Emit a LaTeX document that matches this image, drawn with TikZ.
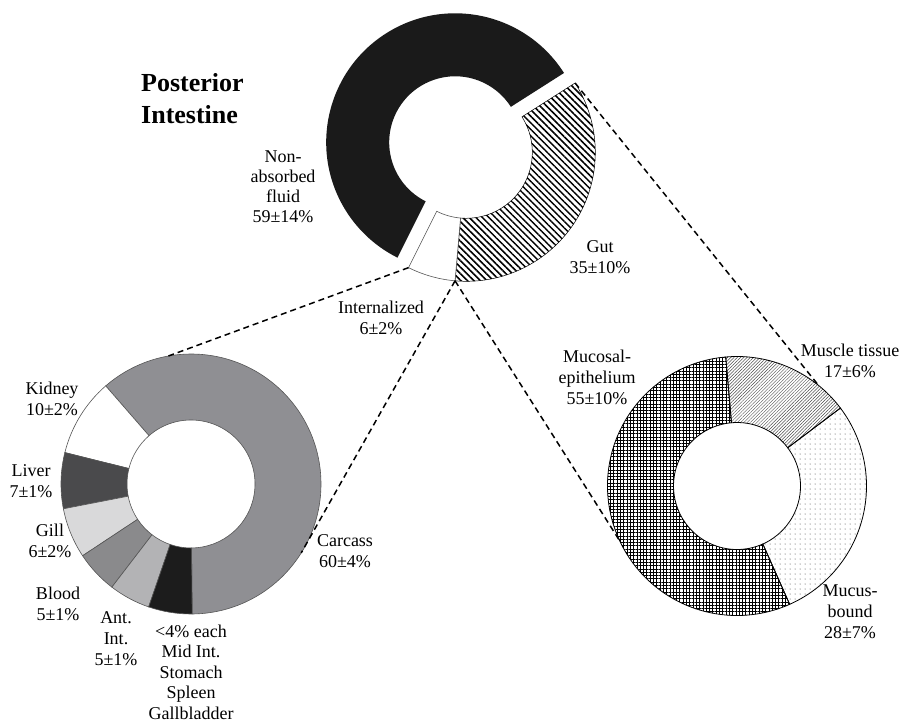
\documentclass[tikz,border=0pt]{standalone}
\usepackage{fontspec}
\setmainfont{Liberation Serif}
\usetikzlibrary{calc,patterns.meta}
\definecolor{topblack}{HTML}{1A1A1A}
\definecolor{carc}{HTML}{8F8F93}
\definecolor{liver}{HTML}{4A4A4C}
\definecolor{gill}{HTML}{D9D9DA}
\definecolor{blood}{HTML}{8A8A8C}
\definecolor{antint}{HTML}{B3B3B5}
\definecolor{misc}{HTML}{1C1C1C}
\definecolor{edge}{HTML}{555555}
\newcommand\ringseg[6]{%
  \path[#1] ($(#2)+(#5:#4)$) arc[start angle=#5,end angle=#6,radius=#4]
    -- ($(#2)+(#6:#3)$) arc[start angle=#6,end angle=#5,radius=#3] -- cycle;}
\tikzset{
  lbl/.style={align=center,inner sep=0pt,font=\fontsize{18}{21}\selectfont},
  ttl/.style={align=left,inner sep=0pt,font=\fontsize{26}{32}\selectfont\bfseries},
  dashline/.style={draw=black,line width=1.5pt,dash pattern=on 6pt off 4pt},
  segL/.style={draw=edge,line width=0.6pt},
  segR/.style={draw=black,line width=0.8pt},
}
\begin{document}
\begin{tikzpicture}[x=1pt,y=1pt]
\useasboundingbox (0,0) rectangle (904,724);
% centres
\coordinate (Ctop) at (466.3,571.7);
\coordinate (Cblk) at (455.2,581.7);
\coordinate (Cleft) at (191,240);
\coordinate (Cright) at (737,238);
% ---- top donut
\ringseg{fill=topblack}{Cblk}{66}{129}{32.5}{243.4}
\ringseg{fill=white,pattern={Lines[angle=-45,distance=4.6pt,line width=1.5pt]},pattern color=black,draw=black,line width=0.5pt}{Ctop}{66}{129}{-95}{32.5}
\ringseg{fill=white,draw=edge,line width=0.6pt}{Ctop}{66}{129}{-116.6}{-95}
% ---- left donut
\ringseg{segL,fill=carc}{Cleft}{64}{130}{-89.5}{131}
\ringseg{segL,fill=white}{Cleft}{64}{130}{131}{166}
\ringseg{segL,fill=liver}{Cleft}{64}{130}{166}{191}
\ringseg{segL,fill=gill}{Cleft}{64}{130}{191}{213.5}
\ringseg{segL,fill=blood}{Cleft}{64}{130}{213.5}{232.5}
\ringseg{segL,fill=antint}{Cleft}{64}{130}{232.5}{251}
\ringseg{segL,fill=misc}{Cleft}{64}{130}{251}{270.5}
% ---- right donut
\ringseg{segR,pattern={Hatch[angle=0,distance=3.3pt,line width=0.8pt]},pattern color=black}{Cright}{63.5}{129.5}{95}{294}
\ringseg{segR,pattern={Lines[angle=45,distance=2.3pt,line width=0.5pt]},pattern color=black!70}{Cright}{63.5}{129.5}{37}{95}
\ringseg{segR,pattern={Dots[distance=5pt,radius=0.5pt]},pattern color=black!80}{Cright}{63.5}{129.5}{-66}{37}
% ---- connector end points
\coordinate (wOut) at ($(Ctop)+(-116.6:129)$);
\coordinate (gwOut) at ($(Ctop)+(-95:129)$);
\coordinate (gOut) at ($(Ctop)+(32.5:129)$);
\coordinate (lTop) at ($(Cleft)+(100:130)$);
\coordinate (lRight) at ($(Cleft)+(-32:130)$);
\coordinate (rLeft) at ($(Cright)+(205:129.5)$);
\coordinate (rTop) at ($(Cright)+(51:129.5)$);
\draw[dashline] (wOut) -- (lTop);
\draw[dashline] (gwOut) -- (lRight);
\draw[dashline] (gwOut) -- (rLeft);
\draw[dashline] (gOut) -- (rTop);
% ---- labels
\node[ttl,anchor=west] (title) at (141,625) {Posterior\\Intestine};
\node[lbl,font=\fontsize{18}{20}\selectfont] (nonabs) at (283,537) {Non-\\absorbed\\fluid\\59±14\%};
\node[lbl] (gut) at (600,466.5) {Gut\\35±10\%};
\node[lbl] (intern) at (381,406) {Internalized\\6±2\%};
\node[lbl] (kidney) at (52,325) {Kidney\\10±2\%};
\node[lbl] (liver) at (31,242.5) {Liver\\7±1\%};
\node[lbl] (gill) at (50,183) {Gill\\6±2\%};
\node[lbl] (blood) at (58,120) {Blood\\5±1\%};
\node[lbl] (ant) at (116,85.5) {Ant.\\Int.\\5±1\%};
\node[lbl,font=\fontsize{18}{20.5}\selectfont] (other) at (191,52) {<4\% each\\Mid Int.\\Stomach\\Spleen\\Gallbladder};
\node[lbl] (carcass) at (345,173) {Carcass\\60±4\%};
\node[lbl] (mucosal) at (597,347) {Mucosal-\\epithelium\\55±10\%};
\node[lbl] (muscle) at (850,363.5) {Muscle tissue\\17±6\%};
\node[lbl] (mucus) at (850,112.5) {Mucus-\\bound\\28±7\%};
\end{tikzpicture}
\end{document}
